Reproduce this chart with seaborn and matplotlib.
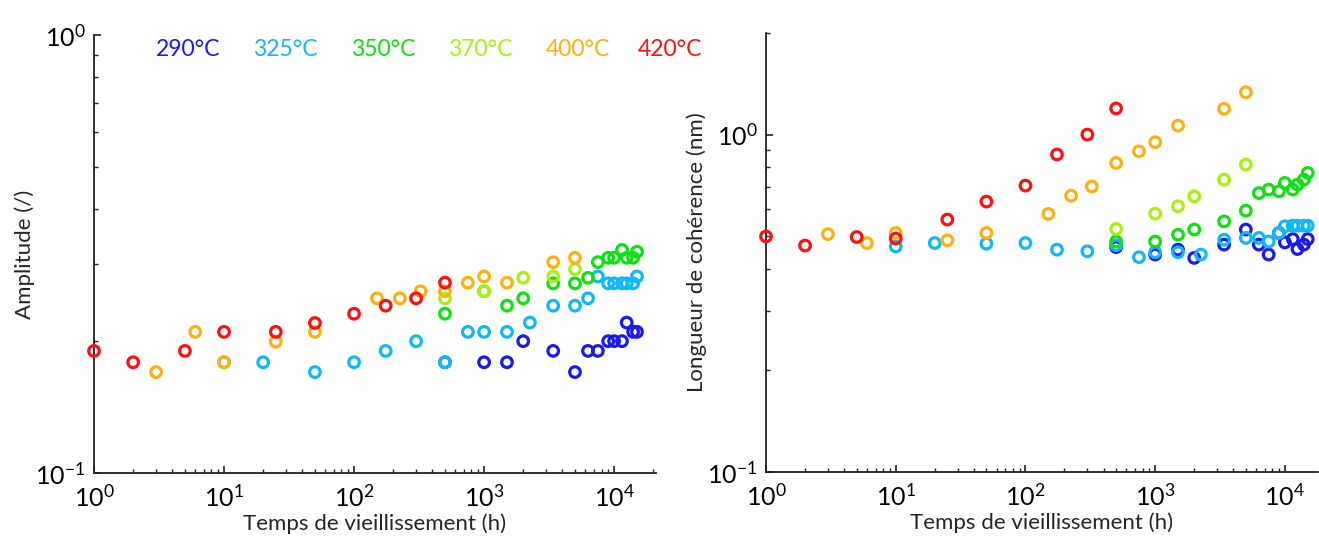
import numpy as np
import matplotlib
matplotlib.use("Agg")
import matplotlib.pyplot as plt
import matplotlib.ticker as mticker
import seaborn as sns

# temperatures and colours
temps = ['290°C', '325°C', '350°C', '370°C', '400°C', '420°C']
colors = ['#1a1aee', '#10b8f8', '#10e010', '#a8f010', '#ffb010', '#ff1010']

# ageing time (h), amplitude (/), coherence length (nm) per temperature
t_290 = [500, 1000, 1500, 2000, 3400, 5000, 6300, 7500, 9000, 10000, 11500, 12500, 14000, 15000]
amp_290 = [0.179, 0.179, 0.179, 0.200, 0.190, 0.170, 0.190, 0.190, 0.200, 0.200, 0.200, 0.2205, 0.210, 0.210]
lc_290 = [0.464, 0.441, 0.456, 0.431, 0.472, 0.523, 0.472, 0.441, 0.511, 0.479, 0.490, 0.458, 0.472, 0.490]

t_325 = [10, 20, 50, 100, 175, 300, 500, 750, 1000, 1500, 2250, 3400, 5000, 6300, 7500,
         9000, 10000, 11500, 12500, 14000, 15000]
amp_325 = [0.179, 0.179, 0.170, 0.179, 0.190, 0.200, 0.179, 0.210, 0.210, 0.210, 0.2205, 0.241,
           0.241, 0.2505, 0.281, 0.271, 0.271, 0.271, 0.271, 0.271, 0.281]
lc_325 = [0.466, 0.477, 0.475, 0.477, 0.456, 0.451, 0.470, 0.433, 0.448, 0.448, 0.441, 0.488,
          0.494, 0.494, 0.482, 0.511, 0.535, 0.537, 0.537, 0.537, 0.537]

t_350 = [500, 1000, 1500, 2000, 3400, 5000, 6300, 7500, 9000, 10000, 11500, 12500, 14000, 15000]
amp_350 = [0.231, 0.260, 0.241, 0.2505, 0.271, 0.271, 0.279, 0.303, 0.310, 0.310, 0.323, 0.310, 0.310, 0.320]
lc_350 = [0.482, 0.482, 0.505, 0.523, 0.553, 0.595, 0.671, 0.687, 0.679, 0.719, 0.687, 0.711, 0.735, 0.770]

t_370 = [500, 1000, 1500, 2000, 3400, 5000]
amp_370 = [0.2505, 0.260, np.nan, 0.279, 0.281, 0.292]
lc_370 = [0.525, 0.583, 0.613, 0.656, 0.735, 0.815]

t_400 = [3, 6, 10, 25, 50, 150, 225, 325, 500, 750, 1000, 1500, 3400, 5000]
amp_400 = [0.170, 0.210, 0.179, 0.1995, 0.210, 0.2505, 0.2505, 0.260, 0.260, 0.272, 0.281, 0.272, 0.303, 0.310]
lc_400 = [0.507, 0.477, 0.511, 0.486, 0.511, 0.582, 0.659, 0.702, 0.824, 0.892, 0.949, 1.063, 1.192, 1.335]

t_420 = [1, 2, 5, 10, 25, 50, 100, 175, 300, 500]
amp_420 = [0.190, 0.179, 0.190, 0.210, 0.210, 0.220, 0.231, 0.241, 0.2505, 0.272]
lc_420 = [0.499, 0.469, 0.497, 0.492, 0.560, 0.633, 0.706, 0.873, 1.000, 1.195]

times = [t_290, t_325, t_350, t_370, t_400, t_420]
amps = [amp_290, amp_325, amp_350, amp_370, amp_400, amp_420]
lcs = [lc_290, lc_325, lc_350, lc_370, lc_400, lc_420]

sns.set_style('ticks')
plt.rcParams['font.family'] = ['Lato', 'DejaVu Sans']
plt.rcParams['axes.linewidth'] = 1.3
plt.rcParams['axes.edgecolor'] = '#222222'

W, H = 1319, 536
fig = plt.figure(figsize=(W / 100, H / 100), dpi=100)
ax1 = fig.add_axes([94 / W, 1 - 473 / H, (656 - 94) / W, (473 - 35) / H])
ax2 = fig.add_axes([766 / W, 1 - 472 / H, (1318 - 766) / W, (472 - 33) / H])

for t, a, l, c in zip(times, amps, lcs, colors):
    sns.scatterplot(x=t, y=a, ax=ax1, marker='o', s=58, color=c, facecolor='none',
                    edgecolor=c, linewidth=2.3, clip_on=False, zorder=3)
    sns.scatterplot(x=t, y=l, ax=ax2, marker='o', s=58, color=c, facecolor='none',
                    edgecolor=c, linewidth=2.3, clip_on=False, zorder=3)

for ax, xmax, ylim in [(ax1, 2.1e4, (0.1, 1)), (ax2, 1.8e4, (0.1, 2))]:
    ax.set_xscale('log')
    ax.set_yscale('log')
    ax.set_xlim(1, xmax)
    ax.set_ylim(*ylim)
    sns.despine(ax=ax)
    ax.xaxis.set_major_locator(mticker.LogLocator(base=10, numticks=10))
    ax.xaxis.set_minor_locator(mticker.LogLocator(base=10, subs=np.arange(2, 10), numticks=20))
    ax.yaxis.set_major_locator(mticker.LogLocator(base=10, numticks=10))
    ax.yaxis.set_minor_locator(mticker.LogLocator(base=10, subs=np.arange(2, 10), numticks=20))
    ax.yaxis.set_minor_formatter(mticker.NullFormatter())
    ax.tick_params(which='major', direction='in', length=5, width=1.2, labelsize=18,
                   colors='#222222', labelcolor='black')
    ax.tick_params(which='minor', direction='in', length=3, width=1.0, colors='#222222')
    ax.tick_params(axis='x', pad=8)
    ax.tick_params(axis='y', pad=6)
    ax.set_xlabel('Temps de vieillissement (h)', fontsize=16, labelpad=2)
    ax.patch.set_alpha(0)

ax1.set_ylabel('Amplitude (/)', fontsize=16)
ax2.set_ylabel('Longueur de cohérence (nm)', fontsize=16)
ax1.yaxis.set_label_coords(-0.105, 0.5)
ax2.yaxis.set_label_coords(-0.107, 0.5)

# temperature legend as coloured text
legend_x = [188, 285, 383, 480, 578, 670]
for x, lab, c in zip(legend_x, temps, colors):
    fig.text(x / W, 1 - 49 / H, lab, color=c, fontsize=16.5, ha='center', va='center')

fig.savefig('out.png', dpi=100)
